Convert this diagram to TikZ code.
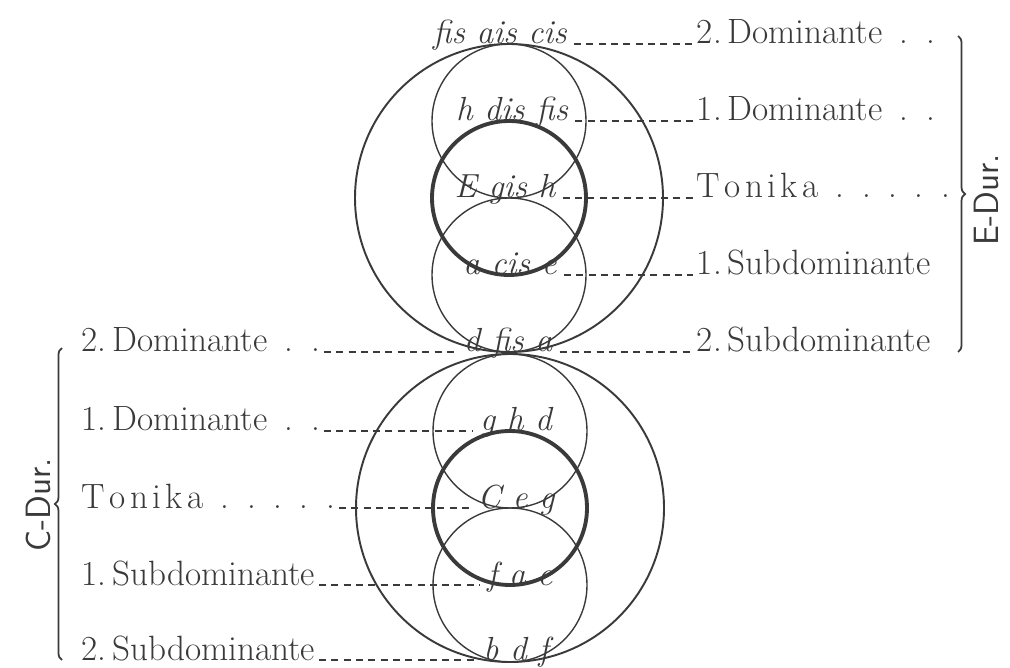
\documentclass[tikz,border=0pt]{standalone}
\usepackage{fontspec}
\usepackage{xcolor}
\usepackage{tikz}
\usetikzlibrary{decorations.pathreplacing}
\definecolor{ink}{HTML}{3A3A3A}
\newcommand{\lpkt}{\hspace{0.5em}.}
\newcommand{\tonika}{T\kern2.5pt o\kern2.5pt n\kern2.5pt i\kern2.5pt k\kern2.5pt a}

\begin{document}
\begin{tikzpicture}[
      x=0.02cm, y=-0.02cm,
      ring/.style={draw=ink, line width=1.1pt},
      thinring/.style={draw=ink, line width=0.8pt},
      boldring/.style={draw=ink, line width=2.2pt},
      notes/.style={font=\fontsize{19}{22}\selectfont\itshape, text=ink, inner sep=0pt, anchor=base},
      fn/.style={font=\fontsize{20}{24}\selectfont, text=ink, inner sep=2pt},
      leader/.style={draw=ink, line width=0.9pt, dash pattern=on 4pt off 3pt},
      klammer/.style={draw=ink, line width=1pt, decorate, decoration={brace, amplitude=4pt}},
      tonart/.style={font=\fontsize{20}{24}\selectfont\sffamily, text=ink, rotate=90}]
    \useasboundingbox (0,0) rectangle (1010,668);
    % E-Dur, oben
    \draw[ring] (509,198) circle[radius=154];
    \draw[thinring] (509,121) circle[radius=77];
    \draw[thinring] (509,275) circle[radius=77];
    \draw[boldring] (509,198) circle[radius=77];
    % C-Dur, unten
    \draw[ring] (510,508) circle[radius=154];
    \draw[thinring] (510,431) circle[radius=77];
    \draw[thinring] (510,585) circle[radius=77];
    \draw[boldring] (510,508) circle[radius=77];
    % Akkorde
    \foreach \x/\y/\t [count=\i] in {500/44/{fis ais cis}, 512/121/{h dis fis},
        505/198/{E gis h}, 510/275/{a cis e}, 508/352/{d fis a}}
      \node[notes] (eu\i) at (\x,\y) {\t};
    \foreach \x/\y/\t [count=\i] in {516/431/{g h d}, 516/508/{C e g},
        520/585/{f a c}, 516/660/{b d f}}
      \node[notes] (cd\i) at (\x,\y) {\t};
    % rechts
    \foreach \y/\t [count=\i] in {44/{2.\,Dominante\lpkt\lpkt}, 121/{1.\,Dominante\lpkt\lpkt},
        198/{\tonika\lpkt\lpkt\lpkt\lpkt\lpkt}, 275/{1.\,Subdominante}, 352/{2.\,Subdominante}}{
      \node[fn, anchor=base west] (eu\i-lab) at (693,\y) {\t};
      \draw[leader, shorten <=4pt] (eu\i.base east) -- (eu\i-lab.base west);
    }
    % links
    \foreach \y/\n/\t [count=\i] in {352/eu5/{2.\,Dominante\lpkt\lpkt}, 431/cd1/{1.\,Dominante\lpkt\lpkt},
        508/cd2/{\tonika\lpkt\lpkt\lpkt\lpkt\lpkt}, 585/cd3/{1.\,Subdominante}, 660/cd4/{2.\,Subdominante}}{
      \node[fn, anchor=base west] (cd\i-lab) at (78,\y) {\t};
      \draw[leader, shorten >=4pt] (cd\i-lab.base east) -- (\n.base west);
    }
    \draw[klammer] (958,36) -- (958,352);
    \draw[klammer] (62,660) -- (62,348);
    \node[tonart] (edur) at (986,200) {E-Dur.};
    \node[tonart] (cdur) at (38,505) {C-Dur.};
  \end{tikzpicture}
\end{document}
